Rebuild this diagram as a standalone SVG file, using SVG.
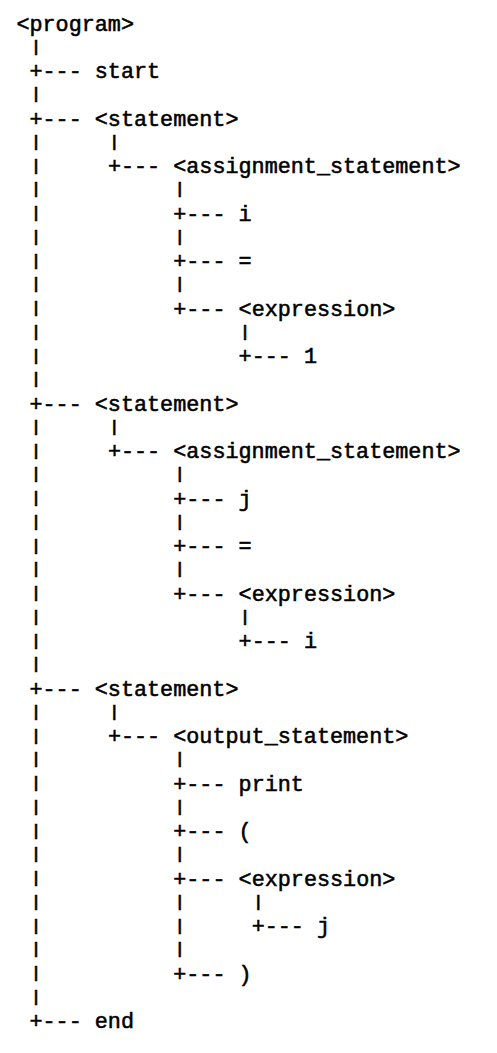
<svg xmlns="http://www.w3.org/2000/svg" width="497" height="1053" viewBox="0 0 497 1053">
<style>
text { font-family: "Liberation Mono", "Courier New", monospace; font-size: 21.78px; font-weight: normal; fill: #000; stroke: #000; stroke-width: 0.55px; white-space: pre; }
.p { text-anchor: middle; }
</style>
<rect x="0" y="0" width="497" height="1053" fill="#fff"/>
<g id="connectors">
<text class="p" transform="translate(36,51.75) scale(1,0.72)">|</text>
<text x="29.47" y="78">+---</text>
<text class="p" transform="translate(36,99.25) scale(1,0.72)">|</text>
<text x="29.47" y="125.5">+---</text>
<text class="p" transform="translate(36,146.75) scale(1,0.72)">|</text>
<text class="p" transform="translate(114.4,146.75) scale(1,0.72)">|</text>
<text class="p" transform="translate(36,170.5) scale(1,0.72)">|</text>
<text x="107.89" y="173">+---</text>
<text class="p" transform="translate(36,194.25) scale(1,0.72)">|</text>
<text class="p" transform="translate(179.8,194.25) scale(1,0.72)">|</text>
<text class="p" transform="translate(36,218) scale(1,0.72)">|</text>
<text x="173.24" y="220.5">+---</text>
<text class="p" transform="translate(36,241.75) scale(1,0.72)">|</text>
<text class="p" transform="translate(179.8,241.75) scale(1,0.72)">|</text>
<text class="p" transform="translate(36,265.5) scale(1,0.72)">|</text>
<text x="173.24" y="268">+---</text>
<text class="p" transform="translate(36,289.25) scale(1,0.72)">|</text>
<text class="p" transform="translate(179.8,289.25) scale(1,0.72)">|</text>
<text class="p" transform="translate(36,313) scale(1,0.72)">|</text>
<text x="173.24" y="315.5">+---</text>
<text class="p" transform="translate(36,336.75) scale(1,0.72)">|</text>
<text class="p" transform="translate(245.1,336.75) scale(1,0.72)">|</text>
<text class="p" transform="translate(36,360.5) scale(1,0.72)">|</text>
<text x="238.59" y="363">+---</text>
<text class="p" transform="translate(36,384.25) scale(1,0.72)">|</text>
<text x="29.47" y="410.5">+---</text>
<text class="p" transform="translate(36,431.75) scale(1,0.72)">|</text>
<text class="p" transform="translate(114.4,431.75) scale(1,0.72)">|</text>
<text class="p" transform="translate(36,455.5) scale(1,0.72)">|</text>
<text x="107.89" y="458">+---</text>
<text class="p" transform="translate(36,479.25) scale(1,0.72)">|</text>
<text class="p" transform="translate(179.8,479.25) scale(1,0.72)">|</text>
<text class="p" transform="translate(36,503) scale(1,0.72)">|</text>
<text x="173.24" y="505.5">+---</text>
<text class="p" transform="translate(36,526.75) scale(1,0.72)">|</text>
<text class="p" transform="translate(179.8,526.75) scale(1,0.72)">|</text>
<text class="p" transform="translate(36,550.5) scale(1,0.72)">|</text>
<text x="173.24" y="553">+---</text>
<text class="p" transform="translate(36,574.25) scale(1,0.72)">|</text>
<text class="p" transform="translate(179.8,574.25) scale(1,0.72)">|</text>
<text class="p" transform="translate(36,598) scale(1,0.72)">|</text>
<text x="173.24" y="600.5">+---</text>
<text class="p" transform="translate(36,621.75) scale(1,0.72)">|</text>
<text class="p" transform="translate(245.1,621.75) scale(1,0.72)">|</text>
<text class="p" transform="translate(36,645.5) scale(1,0.72)">|</text>
<text x="238.59" y="648">+---</text>
<text class="p" transform="translate(36,669.25) scale(1,0.72)">|</text>
<text x="29.47" y="695.5">+---</text>
<text class="p" transform="translate(36,716.75) scale(1,0.72)">|</text>
<text class="p" transform="translate(114.4,716.75) scale(1,0.72)">|</text>
<text class="p" transform="translate(36,740.5) scale(1,0.72)">|</text>
<text x="107.89" y="743">+---</text>
<text class="p" transform="translate(36,764.25) scale(1,0.72)">|</text>
<text class="p" transform="translate(179.8,764.25) scale(1,0.72)">|</text>
<text class="p" transform="translate(36,788) scale(1,0.72)">|</text>
<text x="173.24" y="790.5">+---</text>
<text class="p" transform="translate(36,811.75) scale(1,0.72)">|</text>
<text class="p" transform="translate(179.8,811.75) scale(1,0.72)">|</text>
<text class="p" transform="translate(36,835.5) scale(1,0.72)">|</text>
<text x="173.24" y="838">+---</text>
<text class="p" transform="translate(36,859.25) scale(1,0.72)">|</text>
<text class="p" transform="translate(179.8,859.25) scale(1,0.72)">|</text>
<text class="p" transform="translate(36,883) scale(1,0.72)">|</text>
<text x="173.24" y="885.5">+---</text>
<text class="p" transform="translate(36,906.75) scale(1,0.72)">|</text>
<text class="p" transform="translate(179.8,906.75) scale(1,0.72)">|</text>
<text class="p" transform="translate(258.2,906.75) scale(1,0.72)">|</text>
<text class="p" transform="translate(36,930.5) scale(1,0.72)">|</text>
<text class="p" transform="translate(179.8,930.5) scale(1,0.72)">|</text>
<text x="251.66" y="933">+---</text>
<text class="p" transform="translate(36,954.25) scale(1,0.72)">|</text>
<text class="p" transform="translate(179.8,954.25) scale(1,0.72)">|</text>
<text class="p" transform="translate(36,978) scale(1,0.72)">|</text>
<text x="173.24" y="980.5">+---</text>
<text class="p" transform="translate(36,1001.75) scale(1,0.72)">|</text>
<text x="29.47" y="1028">+---</text>
</g>
<g id="program"><text x="16.4" y="30.5">&lt;program&gt;</text></g>
<g id="start"><text x="94.82" y="78">start</text></g>
<g id="statement1"><text x="94.82" y="125.5">&lt;statement&gt;</text></g>
<g id="assign1"><text x="173.24" y="173">&lt;assignment_statement&gt;</text></g>
<g id="i1"><text x="238.59" y="220.5">i</text></g>
<g id="eq1"><text x="238.59" y="268">=</text></g>
<g id="expr1"><text x="238.59" y="315.5">&lt;expression&gt;</text></g>
<g id="one"><text x="303.94" y="363">1</text></g>
<g id="statement2"><text x="94.82" y="410.5">&lt;statement&gt;</text></g>
<g id="assign2"><text x="173.24" y="458">&lt;assignment_statement&gt;</text></g>
<g id="j1"><text x="238.59" y="505.5">j</text></g>
<g id="eq2"><text x="238.59" y="553">=</text></g>
<g id="expr2"><text x="238.59" y="600.5">&lt;expression&gt;</text></g>
<g id="i2"><text x="303.94" y="648">i</text></g>
<g id="statement3"><text x="94.82" y="695.5">&lt;statement&gt;</text></g>
<g id="output"><text x="173.24" y="743">&lt;output_statement&gt;</text></g>
<g id="print"><text x="238.59" y="790.5">print</text></g>
<g id="lparen"><text x="238.59" y="838">(</text></g>
<g id="expr3"><text x="238.59" y="885.5">&lt;expression&gt;</text></g>
<g id="j2"><text x="317.01" y="933">j</text></g>
<g id="rparen"><text x="238.59" y="980.5">)</text></g>
<g id="end"><text x="94.82" y="1028">end</text></g>
</svg>
